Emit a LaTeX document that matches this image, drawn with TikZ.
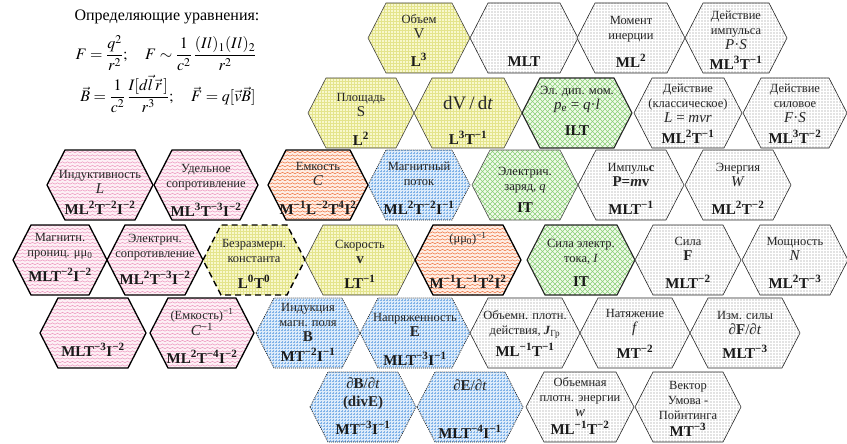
\documentclass[tikz,border=0pt]{standalone}
\usepackage{amsmath}
\usepackage{mathptmx}
\usepackage{fontspec}
\setmainfont{Liberation Serif}
\usetikzlibrary{patterns}
\definecolor{yelF}{HTML}{F8F8CC}
\definecolor{yelP}{HTML}{E4E48C}
\definecolor{pinkF}{HTML}{FDF0F5}
\definecolor{pinkP}{HTML}{EE9CC2}
\definecolor{oraF}{HTML}{FEEEE4}
\definecolor{oraP}{HTML}{F07A4A}
\definecolor{bluF}{HTML}{DCEBFA}
\definecolor{bluP}{HTML}{7FB2E8}
\definecolor{greF}{HTML}{F0FAEA}
\definecolor{greP}{HTML}{8ACF78}
\definecolor{gryP}{HTML}{888888}
\pgfdeclarepatternformonly{wavy}{\pgfqpoint{-1pt}{-1pt}}{\pgfqpoint{6pt}{4.5pt}}{\pgfqpoint{5pt}{3.5pt}}{%
  \pgfsetlinewidth{0.55pt}
  \pgfpathmoveto{\pgfqpoint{0pt}{0.8pt}}
  \pgfpathcurveto{\pgfqpoint{0.8pt}{0.8pt}}{\pgfqpoint{1.7pt}{2.2pt}}{\pgfqpoint{2.5pt}{2.2pt}}
  \pgfpathcurveto{\pgfqpoint{3.3pt}{2.2pt}}{\pgfqpoint{4.2pt}{0.8pt}}{\pgfqpoint{5pt}{0.8pt}}
  \pgfusepath{stroke}}
\pgfdeclarepatternformonly{sdots}{\pgfqpoint{-0.7pt}{-0.7pt}}{\pgfqpoint{0.7pt}{0.7pt}}{\pgfqpoint{3pt}{3pt}}{%
  \pgfpathcircle{\pgfqpoint{0pt}{0pt}}{0.6pt}\pgfusepath{fill}}
\pgfdeclarepatternformonly{fgrid}{\pgfqpoint{-0.5pt}{-0.5pt}}{\pgfqpoint{3.5pt}{3.5pt}}{\pgfqpoint{3pt}{3pt}}{%
  \pgfsetlinewidth{0.45pt}
  \pgfpathmoveto{\pgfqpoint{0pt}{0pt}}\pgfpathlineto{\pgfqpoint{3.1pt}{0pt}}
  \pgfpathmoveto{\pgfqpoint{0pt}{0pt}}\pgfpathlineto{\pgfqpoint{0pt}{3.1pt}}
  \pgfusepath{stroke}}
\pgfdeclarepatternformonly{xhatch}{\pgfqpoint{-0.5pt}{-0.5pt}}{\pgfqpoint{5.5pt}{5.5pt}}{\pgfqpoint{5pt}{5pt}}{%
  \pgfsetlinewidth{0.5pt}
  \pgfpathmoveto{\pgfqpoint{0pt}{0pt}}\pgfpathlineto{\pgfqpoint{5pt}{5pt}}
  \pgfpathmoveto{\pgfqpoint{0pt}{5pt}}\pgfpathlineto{\pgfqpoint{5pt}{0pt}}
  \pgfusepath{stroke}}
\newcommand\labfont{\fontsize{12.5}{15}\selectfont}
\newcommand\dimfont{\fontsize{15}{17}\selectfont\bfseries}
\newcommand\bsym[1]{{\fontsize{15}{15}\selectfont #1}}
\newcommand\su[1]{\textsuperscript{#1}}
\newcommand\hexa[4]{\path[#4] ({#1-#3},#2) -- ({#1-#3+18},{#2-35}) -- ({#1+#3-18},{#2-35}) -- ({#1+#3},#2) -- ({#1+#3-18},{#2+35}) -- ({#1-#3+18},{#2+35}) -- cycle;}
\tikzset{
  yel/.style={preaction={fill=yelF}, pattern=fgrid, pattern color=yelP, draw=black!75, line width=0.6pt},
  yeldash/.style={preaction={fill=yelF}, pattern=fgrid, pattern color=yelP, draw=black, line width=1.4pt, dash pattern=on 6pt off 4pt},
  gry/.style={preaction={fill=white}, pattern=sdots, pattern color=gryP, draw=black!85, line width=0.6pt},
  pnk/.style={preaction={fill=pinkF}, pattern=wavy, pattern color=pinkP, draw=black, line width=1.3pt},
  ora/.style={preaction={fill=oraF}, pattern=wavy, pattern color=oraP, draw=black, line width=1.3pt},
  blu/.style={preaction={fill=bluF}, pattern=fgrid, pattern color=bluP, draw=black!85, line width=0.7pt, dash pattern=on 1pt off 1pt},
  gre/.style={preaction={fill=greF}, pattern=xhatch, pattern color=greP, draw=black!70, line width=0.6pt},
  greb/.style={preaction={fill=greF}, pattern=xhatch, pattern color=greP, draw=black!85, line width=1.1pt},
  lab/.style={align=center, font=\labfont, inner sep=0pt, text=black!85},
  dimn/.style={font=\dimfont, inner sep=0pt, text=black!90},
  eqn/.style={font=\fontsize{16}{18}\selectfont, inner sep=0pt}
}
\begin{document}
\begin{tikzpicture}[x=1pt,y=-1pt]
\useasboundingbox (0,0) rectangle (847,444);
% equations
\node[eqn] (hdr) at (167,17) {Определяющие уравнения:};
\node[eqn] (eqa) at (166,53) {$F=\dfrac{q^{2}}{r^{2}};\quad F\sim\dfrac{1}{c^{2}}\,\dfrac{(Il)_{1}(Il)_{2}}{r^{2}}$};
\node[eqn] (eqb) at (168,94) {$\vec{B}=\dfrac{1}{c^{2}}\,\dfrac{I[d\vec{l}\,\vec{r}\,]}{r^{3}};\quad \vec{F}=q[\vec{v}\vec{B}]$};
% Row 1
\hexa{419}{38}{51}{yel}
\node[lab] (vol) at (419,26.5) {Объем\\\bsym{V}};
\node[dimn] (vold) at (419,60) {L\su{3}};
\hexa{524}{38}{54}{gry}
\node[dimn] (mltd) at (524,62) {MLT};
\hexa{631}{38}{54}{gry}
\node[lab] (mom) at (631,29.5) {Момент\\инерции};
\node[dimn] (momd) at (631,61) {ML\su{2}};
\hexa{736}{38}{51}{gry}
\node[lab] (dimp) at (736,30) {Действие\\импульса\\\bsym{\textit{P}·\textit{S}}};
\node[dimn] (dimpd) at (736,63) {ML\su{3}T\su{−1}};
% Row 2
\hexa{361}{113}{53}{yel}
\node[lab] (area) at (361,105) {Площадь\\\bsym{S}};
\node[dimn] (aread) at (361,139) {L\su{2}};
\hexa{468}{113}{54}{yel}
\node[lab, font=\fontsize{19}{20}\selectfont] (dvdt) at (468,103) {dV\,/\,d\textit{t}};
\node[dimn] (dvdtd) at (468,138) {L\su{3}T\su{−1}};
\hexa{577}{113}{55}{greb}
\node[lab] (dip) at (577,99.5) {Эл. дип. мом.\\\bsym{\textit{p}\textsubscript{e} = \textit{q}·\textit{l}}};
\node[dimn] (dipd) at (577,131) {ILT};
\hexa{688}{113}{54}{gry}
\node[lab] (dcl) at (688,103) {Действие\\(классическое)\\\bsym{\textit{L} = \textit{mvr}}};
\node[dimn] (dcld) at (688,137) {ML\su{2}T\su{−1}};
\hexa{795}{113}{52}{gry}
\node[lab] (dsil) at (795,103) {Действие\\силовое\\\bsym{\textit{F}·\textit{S}}};
\node[dimn] (dsild) at (795,137) {ML\su{3}T\su{−2}};
% Row 3
\hexa{100}{185}{53}{pnk}
\node[lab] (ind) at (100,181.5) {Индуктивность\\\bsym{\textit{L}}};
\node[dimn] (indd) at (100,208) {ML\su{2}T\su{−2}I\su{−2}};
\hexa{206}{185}{52}{pnk}
\node[lab] (udel) at (206,177.5) {Удельное\\сопротивление};
\node[dimn] (udeld) at (206,210) {ML\su{3}T\su{−3}I\su{−2}};
\hexa{318}{185}{50}{ora}
\node[lab] (cap) at (318,173.5) {Емкость\\\bsym{\textit{C}}};
\node[dimn] (capd) at (318,208) {M\su{−1}L\su{−2}T\su{4}I\su{2}};
\hexa{419}{185}{51}{blu}
\node[lab] (flux) at (419,173.5) {Магнитный\\поток};
\node[dimn] (fluxd) at (419,208) {ML\su{2}T\su{−2}I\su{−1}};
\hexa{525}{185}{53}{gre}
\node[lab] (chg) at (525,180) {Электрич.\\заряд, \textit{q}};
\node[dimn] (chgd) at (525,208) {IT};
\hexa{631}{185}{53}{gry}
\node[lab] (mom2) at (631,174.5) {Импуль\textbf{с}\\\bsym{\textbf{P=\textit{m}v}}};
\node[dimn] (mom2d) at (631,208) {MLT\su{−1}};
\hexa{738}{185}{53}{gry}
\node[lab] (en) at (738,174.5) {Энергия\\\bsym{\textit{W}}};
\node[dimn] (end) at (738,208) {ML\su{2}T\su{−2}};
% Row 4
\hexa{60}{260}{47}{pnk}
\node[lab] (perm) at (60,246) {Магнитн.\\прониц. μμ\textsubscript{0}};
\node[dimn] (permd) at (60,275) {MLT\su{−2}I\su{−2}};
\hexa{155}{260}{48}{pnk}
\node[lab] (res) at (155,247.5) {Электрич.\\сопротивление};
\node[dimn] (resd) at (155,278) {ML\su{2}T\su{−3}I\su{−2}};
\hexa{254}{260}{51}{yeldash}
\node[lab] (dless) at (254,250.5) {Безразмерн.\\константа};
\node[dimn] (dlessd) at (254,282) {L\su{0}T\su{0}};
\hexa{360}{260}{55}{yel}
\node[lab] (vel) at (360,251.5) {Скорость\\\bsym{\textbf{v}}};
\node[dimn] (veld) at (360,282) {LT\su{−1}};
\hexa{468}{260}{53}{ora}
\node[lab] (mu) at (468,239) {(μμ\textsubscript{0})\su{−1}};
\node[dimn] (mud) at (468,282) {M\su{−1}L\su{−1}T\su{2}I\su{2}};
\hexa{581}{260}{54}{greb}
\node[lab] (cur) at (581,251.5) {Сила электр.\\тока, \textit{I}};
\node[dimn] (curd) at (581,282) {IT};
\hexa{688}{260}{53}{gry}
\node[lab] (force) at (688,249) {Сила\\\bsym{\textbf{F}}};
\node[dimn] (forced) at (688,282) {MLT\su{−2}};
\hexa{795}{260}{53}{gry}
\node[lab] (pow) at (795,248.5) {Мощность\\\bsym{\textit{N}}};
\node[dimn] (powd) at (795,282) {ML\su{2}T\su{−3}};
% Row 5
\hexa{93}{333}{53}{pnk}
\node[dimn] (blankd) at (93,350) {MLT\su{−3}I\su{−2}};
\hexa{202}{333}{52}{pnk}
\node[lab] (icap) at (202,322.5) {(Емкость)\su{−1}\\\bsym{\textit{C}\su{−1}}};
\node[dimn] (icapd) at (202,357) {ML\su{2}T\su{−4}I\su{−2}};
\hexa{308}{333}{52}{blu}
\node[lab] (bind) at (308,322) {Индукция\\магн. поля\\\bsym{\textbf{B}}};
\node[dimn] (bindd) at (308,355) {MT\su{−2}I\su{−1}};
\hexa{415}{333}{55}{blu}
\node[lab] (efld) at (415,325) {Напряженность\\\bsym{\textbf{E}}};
\node[dimn] (efldd) at (415,359) {MLT\su{−3}I\su{−1}};
\hexa{525}{333}{55}{gry}
\node[lab] (adens) at (525,324.5) {Объемн. плотн.\\действия, \textbf{\textit{J}}\textsubscript{Гр}};
\node[dimn] (adensd) at (525,350) {ML\su{−1}T\su{−1}};
\hexa{635}{333}{55}{gry}
\node[lab] (tens) at (635,323) {Натяжение\\\bsym{\textit{f}}};
\node[dimn] (tensd) at (635,352) {MT\su{−2}};
\hexa{745}{333}{55}{gry}
\node[lab] (dfdt) at (745,323) {Изм. силы\\\bsym{∂\textbf{F}/∂\textit{t}}};
\node[dimn] (dfdtd) at (745,352) {MLT\su{−3}};
% Row 6
\hexa{363}{407}{53}{blu}
\node[lab, font=\fontsize{15}{18}\selectfont] (dbdt) at (363,394) {∂\textbf{B}/∂\textit{t}\\\textbf{(divE)}};
\node[dimn] (dbdtd) at (363,428) {MT\su{−3}I\su{−1}};
\hexa{470}{407}{53}{blu}
\node[lab, font=\fontsize{15}{18}\selectfont] (dedt) at (470,385) {∂\textbf{E}/∂\textit{t}};
\node[dimn] (dedtd) at (470,432) {MLT\su{−4}I\su{−1}};
\hexa{580}{407}{54}{gry}
\node[lab] (edens) at (580,397) {Объемная\\плотн. энергии\\\bsym{\textit{w}}};
\node[dimn] (edensd) at (580,428) {ML\su{−1}T\su{−2}};
\hexa{688}{407}{53}{gry}
\node[lab] (umov) at (688,400) {Вектор\\Умова -\\Пойнтинга};
\node[dimn] (umovd) at (688,430) {MT\su{−3}};
\end{tikzpicture}
\end{document}
